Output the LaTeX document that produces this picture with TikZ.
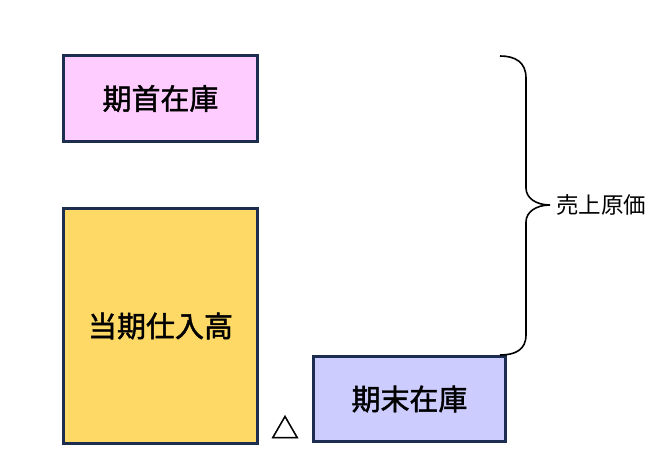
\documentclass[tikz,border=0pt]{standalone}
\usepackage{fontspec}
\newfontfamily\cjk{Noto Sans CJK JP}
\newfontfamily\cjkb{Noto Sans CJK JP}[FakeBold=1.6]
\definecolor{navy}{RGB}{28,45,80}
\definecolor{pinkfill}{RGB}{255,204,255}
\definecolor{yellowfill}{RGB}{255,217,102}
\definecolor{lavfill}{RGB}{204,204,255}
\tikzset{
  boxnode/.style={draw=navy, line width=3.8pt, inner sep=0pt, font=\cjkb\fontsize{29}{32}\selectfont},
  bracepath/.style={draw=black, line width=1.6pt},
  lbl/.style={font=\cjk\fontsize{22.5}{25}\selectfont, inner sep=0pt}
}
\begin{document}
\begin{tikzpicture}[x=1pt,y=1pt]
\useasboundingbox (0,0) rectangle (665,472);
\node[boxnode, fill=pinkfill, minimum width=194pt, minimum height=86pt] (kishu) at (160.5,373.5) {期首在庫};
\node[boxnode, fill=yellowfill, minimum width=194pt, minimum height=235pt] (shiire) at (160.5,146) {当期仕入高};
\node[boxnode, fill=lavfill, minimum width=192pt, minimum height=85pt] (kimatsu) at (409.5,73) {期末在庫};
\node[font=\cjkb\fontsize{28}{30}\selectfont, inner sep=0pt] (tri) at (285,45) {△};
\coordinate (btop) at (500,416);
\coordinate (bbot) at (500,117);
\coordinate (btip) at (550,267);
\node[lbl, anchor=west] (genka) at (556,267) {売上原価};
\path[bracepath] (btop) .. controls (515,416) and (526,410) .. (526,394) -- (526,284)
  .. controls (526,274) and (536,267) .. (btip)
  .. controls (536,267) and (526,260) .. (526,250) -- (526,137)
  .. controls (526,122) and (515,117) .. (bbot);
\end{tikzpicture}
\end{document}
